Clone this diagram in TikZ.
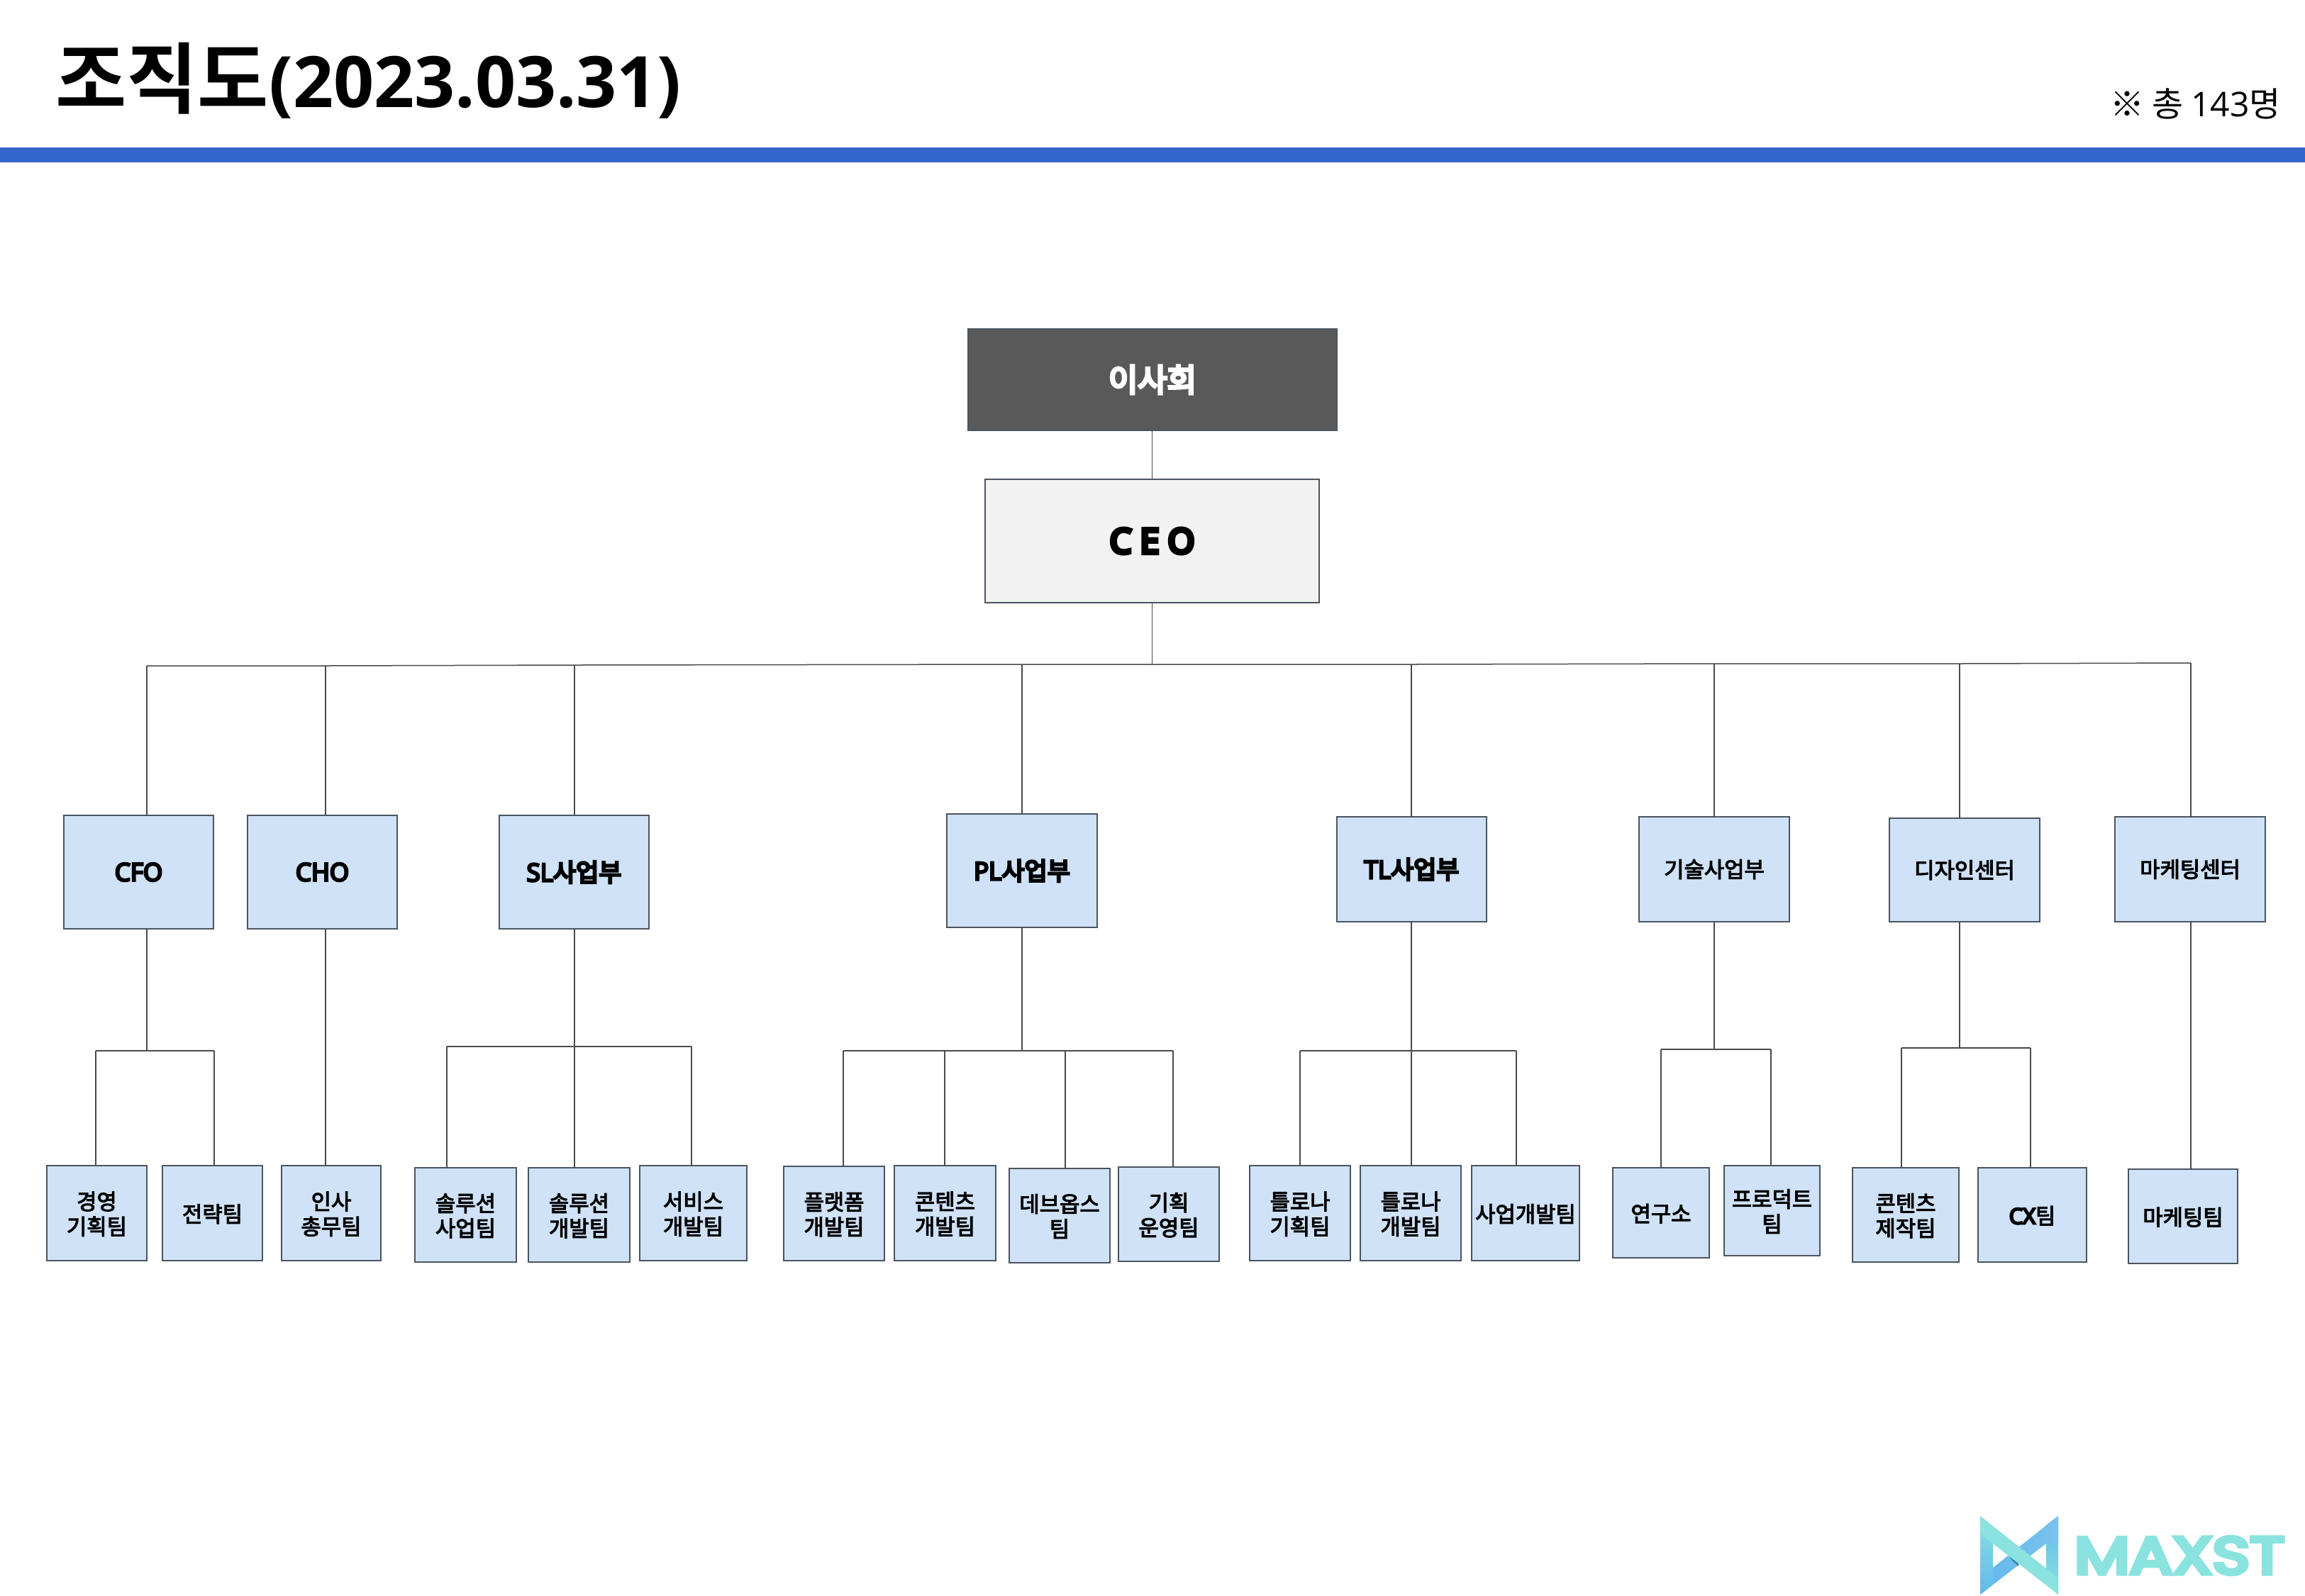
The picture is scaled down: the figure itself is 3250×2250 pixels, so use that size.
\documentclass[tikz,border=0pt]{standalone}
\usepackage{fontspec}
\setmainfont{Noto Sans CJK KR}[FakeBold=3.5]
\newfontfamily\krb{Noto Sans CJK KR}[BoldFont={Noto Sans CJK KR Bold}]
\newfontfamily\krm{Noto Sans CJK KR}[FakeBold=8]
\newfontfamily\lat{Open Sans}
\newfontfamily\latm{Open Sans}[FakeBold=8]
\newfontfamily\latb{Open Sans}[FakeBold=12]
\newfontfamily\logofont{Poppins}[FakeBold=8]
\definecolor{boxblue}{HTML}{CFE2F7}
\definecolor{rulecol}{HTML}{3366CC}
\definecolor{linecol}{HTML}{4A4A4A}
\definecolor{edgecol}{HTML}{4A5560}
\definecolor{teal}{HTML}{8AE3DF}
\definecolor{skyb}{HTML}{62B8EA}
\definecolor{deepb}{HTML}{2F7FA8}
\tikzset{
  basebox/.style={draw=edgecol,line width=0.8pt,inner sep=0pt,outer sep=0pt,align=center},
  leaf/.style={basebox,fill=boxblue,font=\fontsize{15.4}{17.6}\selectfont,text depth=0pt},
  head/.style={basebox,fill=boxblue,font=\fontsize{15.4}{17.6}\selectfont},
  headb/.style={basebox,fill=boxblue,font=\fontsize{17.5}{20}\selectfont\krm},
  wire/.style={draw=linecol,line width=0.75pt},
}
\newcommand{\bx}[7][leaf]{%
  \pgfmathsetmacro{\bxw}{(#5-#3)*0.5}\pgfmathsetmacro{\bxh}{(#6-#4)*0.5}%
  \pgfmathsetmacro{\bxx}{(#5+#3)/2}\pgfmathsetmacro{\bxy}{(#6+#4)/2}%
  \node[#1,minimum width=\bxw pt,minimum height=\bxh pt] (#2) at (\bxx,\bxy) {#7};}
\begin{document}
\begin{tikzpicture}[x=0.5pt,y=-0.5pt]
\useasboundingbox (0,0) rectangle (3250,2250);
\fill[white] (0,0) rectangle (3250,2250);
\fill[rulecol] (0,208) rectangle (3250,229);
\node[anchor=base west,inner sep=0pt,font=\fontsize{54.5}{60}\selectfont] (title) at (78,151) {\krb\bfseries 조직도\lat\bfseries\fontsize{50}{60}\selectfont(2023.03.31)};
\node[anchor=base east,inner sep=0pt,font=\fontsize{24}{28}\selectfont] (note) at (3216,164) {\krb ※ 총 \lat 143\krb 명};

% top
\bx[basebox,fill=black!65,text=white,font=\fontsize{22.5}{26}\selectfont\krm]{board}{1365}{464}{1885}{607}{이사회}
\bx[basebox,fill=black!5,font=\fontsize{24}{28}\selectfont\latb]{ceo}{1389}{676}{1860}{850}{C E O}

% level 2
\bx[headb]{cfo}{90}{1150}{301}{1310}{\latm CFO}
\bx[headb]{cho}{349}{1150}{560}{1310}{\latm CHO}
\bx[headb]{sl}{704}{1150}{915}{1310}{\latm SL\krm 사업부}
\bx[headb]{pl}{1335}{1148}{1547}{1308}{\latm PL\krm 사업부}
\bx[headb]{tl}{1885}{1152}{2096}{1300}{\latm TL\krm 사업부}
\bx[head]{tech}{2311}{1152}{2523}{1300}{기술사업부}
\bx[head]{des}{2664}{1154}{2876}{1300}{디자인센터}
\bx[head]{mkt}{2982}{1152}{3194}{1300}{마케팅센터}

% leaves
\bx{l1}{66}{1644}{207}{1778}{경영\\기획팀}
\bx{l2}{229}{1644}{370}{1778}{전략팀}
\bx{l3}{397}{1644}{537}{1778}{인사\\총무팀}
\bx{l4}{585}{1647}{728}{1780}{솔루션\\사업팀}
\bx{l5}{745}{1647}{888}{1780}{솔루션\\개발팀}
\bx{l6}{902}{1644}{1053}{1778}{서비스\\개발팀}
\bx{l7}{1105}{1645}{1247}{1778}{플랫폼\\개발팀}
\bx{l8}{1261}{1644}{1404}{1778}{콘텐츠\\개발팀}
\bx{l9}{1423}{1648}{1565}{1781}{데브옵스\\팀}
\bx{l10}{1577}{1646}{1719}{1779}{기획\\운영팀}
\bx{l11}{1762}{1644}{1904}{1778}{틀로나\\기획팀}
\bx{l12}{1918}{1644}{2060}{1778}{틀로나\\개발팀}
\bx{l13}{2075}{1644}{2227}{1778}{사업개발팀}
\bx{l14}{2274}{1647}{2410}{1774}{연구소}
\bx{l15}{2431}{1644}{2566}{1771}{프로덕트\\팀}
\bx{l16}{2612}{1647}{2762}{1780}{콘텐츠\\제작팀}
\bx{l17}{2789}{1647}{2942}{1780}{{\latm CX}팀}
\bx{l18}{3001}{1649}{3155}{1782}{마케팅팀}

% wires: top
\coordinate (tk) at (ceo.south |- 0,937);
\draw[wire] (board.south -| ceo.north) -- (ceo.north);
\draw[wire] (ceo.south) -- (tk);

% main bus junctions
\coordinate (b1) at (207,939);
\coordinate (b2) at (459,939);
\coordinate (b3) at (810,938);
\coordinate (b4) at (1441,937);
\coordinate (b5) at (1990,937);
\coordinate (b6) at (2417,936);
\coordinate (b7) at (2763,936);
\coordinate (b8) at (3089,935);
\draw[wire] (b1) -- (b2) -- (b3) -- (b4) -- (tk) -- (b5) -- (b6) -- (b7) -- (b8);
\draw[wire] (b1) -- (b1 |- cfo.north);
\draw[wire] (b2) -- (b2 |- cho.north);
\draw[wire] (b3) -- (b3 |- sl.north);
\draw[wire] (b4) -- (b4 |- pl.north);
\draw[wire] (b5) -- (b5 |- tl.north);
\draw[wire] (b6) -- (b6 |- tech.north);
\draw[wire] (b7) -- (b7 |- des.north);
\draw[wire] (b8) -- (b8 |- mkt.north);

% CFO group
\coordinate (m1) at (207,1482);
\coordinate (d1) at (135,1482);
\coordinate (d2) at (302,1482);
\draw[wire] (b1 |- cfo.south) -- (m1);
\draw[wire] (d1) -- (d2);
\draw[wire] (d1) -- (d1 |- l1.north);
\draw[wire] (d2) -- (d2 |- l2.north);
% CHO
\draw[wire] (b2 |- cho.south) -- (b2 |- l3.north);
% SL
\coordinate (d4) at (630,1476);
\coordinate (d6) at (975,1476);
\draw[wire] (b3 |- sl.south) -- (b3 |- l5.north);
\draw[wire] (d4) -- (d6);
\draw[wire] (d4) -- (d4 |- l4.north);
\draw[wire] (d6) -- (d6 |- l6.north);
% PL
\coordinate (d7) at (1189,1482);
\coordinate (d8) at (1332,1482);
\coordinate (d9) at (1502,1482);
\coordinate (d10) at (1654,1482);
\draw[wire] (b4 |- pl.south) -- (b4 |- d7);
\draw[wire] (d7) -- (d10);
\draw[wire] (d7) -- (d7 |- l7.north);
\draw[wire] (d8) -- (d8 |- l8.north);
\draw[wire] (d9) -- (d9 |- l9.north);
\draw[wire] (d10) -- (d10 |- l10.north);
% TL
\coordinate (d11) at (1833,1482);
\coordinate (d13) at (2138,1482);
\draw[wire] (d11) -- (d13);
\draw[wire] (b5 |- tl.south) -- (b5 |- l12.north);
\draw[wire] (d11) -- (d11 |- l11.north);
\draw[wire] (d13) -- (d13 |- l13.north);
% tech
\coordinate (d14) at (2342,1480);
\coordinate (d15) at (2497,1480);
\draw[wire] (b6 |- tech.south) -- (b6 |- d14);
\draw[wire] (d14) -- (d15);
\draw[wire] (d14) -- (d14 |- l14.north);
\draw[wire] (d15) -- (d15 |- l15.north);
% design
\coordinate (d16) at (2681,1478);
\coordinate (d17) at (2863,1478);
\draw[wire] (b7 |- des.south) -- (b7 |- d16);
\draw[wire] (d16) -- (d17);
\draw[wire] (d16) -- (d16 |- l16.north);
\draw[wire] (d17) -- (d17 |- l17.north);
% marketing
\draw[wire] (b8 |- mkt.south) -- (b8 |- l18.north);

% logo
\shade[top color=skyb,bottom color=teal] (2885,2151) -- (2902,2138) -- (2902,2249) -- (2885,2212) -- cycle;
\shade[left color=skyb,right color=skyb!85!white] (2792,2249) -- (2885,2177) -- (2902,2177) -- (2902,2138) -- (2810,2211) -- (2792,2211) -- cycle;
\shade[top color=teal,bottom color=skyb] (2792,2138) -- (2810,2153) -- (2810,2235) -- (2792,2249) -- cycle;
\fill[deepb] (2833,2193) -- (2845,2203) -- (2846,2209) -- (2836,2200) -- cycle;
\fill[teal] (2792,2138) -- (2885,2212) -- (2902,2226) -- (2902,2249) -- (2810,2177) -- (2792,2163) -- cycle;
\node[anchor=center,inner sep=0pt,text=teal] (logo) at (3073,2194) {\resizebox{148pt}{26pt}{\logofont MAXST}};
\end{tikzpicture}
\end{document}
